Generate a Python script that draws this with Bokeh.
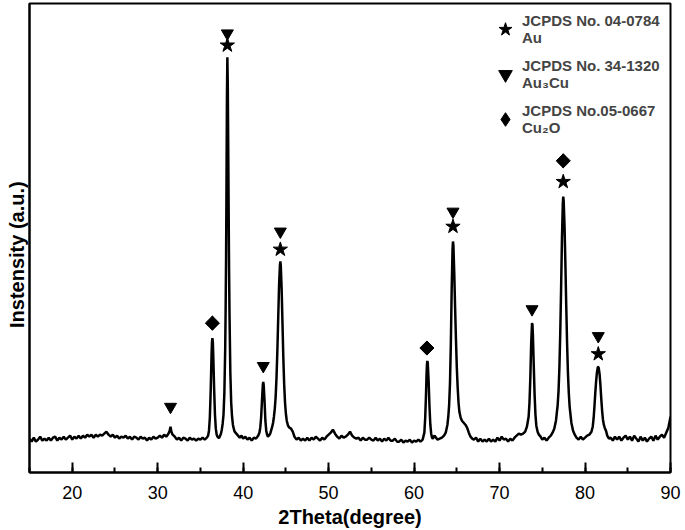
import math
from bokeh.plotting import figure
from bokeh.models import Range1d, Legend, LegendItem, SingleIntervalTicker, FixedTicker
from bokeh.embed import file_html
from bokeh.resources import INLINE

two_theta = [
    15.00, 15.25, 15.50, 15.75, 16.00, 16.25, 16.50, 16.75, 17.00, 17.25,
    17.50, 17.75, 18.00, 18.25, 18.50, 18.75, 19.00, 19.25, 19.50, 19.75,
    20.00, 20.25, 20.50, 20.75, 21.00, 21.25, 21.50, 21.75, 22.00, 22.25,
    22.50, 22.75, 23.00, 23.25, 23.50, 23.75, 24.00, 24.25, 24.50, 24.75,
    25.00, 25.25, 25.50, 25.75, 26.00, 26.25, 26.50, 26.75, 27.00, 27.25,
    27.50, 27.75, 28.00, 28.25, 28.50, 28.75, 29.00, 29.25, 29.50, 29.75,
    30.00, 30.25, 30.50, 30.75, 31.00, 31.25, 31.40, 31.50, 31.60, 31.75,
    32.00, 32.25, 32.50, 32.75, 33.00, 33.25, 33.50, 33.75, 34.00, 34.25,
    34.50, 34.75, 35.00, 35.25, 35.50, 35.75, 35.90, 36.00, 36.10, 36.20,
    36.30, 36.35, 36.40, 36.45, 36.50, 36.60, 36.70, 36.80, 36.90, 37.00,
    37.10, 37.20, 37.30, 37.40, 37.50, 37.60, 37.70, 37.80, 37.90, 37.95,
    38.00, 38.05, 38.10, 38.15, 38.20, 38.25, 38.30, 38.35, 38.40, 38.50,
    38.60, 38.70, 38.80, 38.90, 39.00, 39.20, 39.40, 39.60, 39.80, 40.00,
    40.25, 40.50, 40.75, 41.00, 41.25, 41.50, 41.75, 41.90, 42.00, 42.10,
    42.20, 42.30, 42.35, 42.40, 42.50, 42.60, 42.70, 42.80, 42.90, 43.00,
    43.10, 43.20, 43.30, 43.40, 43.50, 43.60, 43.70, 43.80, 43.90, 44.00,
    44.10, 44.20, 44.30, 44.35, 44.40, 44.50, 44.60, 44.70, 44.80, 44.90,
    45.00, 45.10, 45.25, 45.40, 45.60, 45.80, 46.00, 46.25, 46.50, 46.75,
    47.00, 47.25, 47.50, 47.75, 48.00, 48.25, 48.50, 48.75, 49.00, 49.25,
    49.50, 49.75, 50.00, 50.25, 50.50, 50.75, 51.00, 51.25, 51.50, 51.75,
    52.00, 52.25, 52.50, 52.75, 53.00, 53.25, 53.50, 53.75, 54.00, 54.25,
    54.50, 54.75, 55.00, 55.25, 55.50, 55.75, 56.00, 56.25, 56.50, 56.75,
    57.00, 57.25, 57.50, 57.75, 58.00, 58.25, 58.50, 58.75, 59.00, 59.25,
    59.50, 59.75, 60.00, 60.25, 60.50, 60.75, 61.00, 61.20, 61.30, 61.40,
    61.45, 61.50, 61.55, 61.60, 61.70, 61.80, 61.90, 62.00, 62.10, 62.20,
    62.30, 62.40, 62.55, 62.75, 63.00, 63.25, 63.50, 63.70, 63.90, 64.00,
    64.10, 64.20, 64.30, 64.40, 64.50, 64.55, 64.60, 64.70, 64.80, 64.90,
    65.00, 65.10, 65.20, 65.30, 65.45, 65.60, 65.80, 66.00, 66.20, 66.40,
    66.60, 66.80, 67.00, 67.25, 67.50, 67.75, 68.00, 68.25, 68.50, 68.75,
    69.00, 69.25, 69.50, 69.75, 70.00, 70.25, 70.50, 70.75, 71.00, 71.25,
    71.50, 71.75, 72.00, 72.25, 72.50, 72.75, 73.00, 73.20, 73.40, 73.50,
    73.60, 73.70, 73.80, 73.85, 73.90, 74.00, 74.10, 74.20, 74.30, 74.45,
    74.60, 74.80, 75.00, 75.25, 75.50, 75.75, 76.00, 76.20, 76.40, 76.60,
    76.80, 76.90, 77.00, 77.10, 77.20, 77.30, 77.40, 77.45, 77.50, 77.60,
    77.70, 77.80, 77.90, 78.00, 78.10, 78.20, 78.40, 78.60, 78.80, 79.00,
    79.25, 79.50, 79.75, 80.00, 80.25, 80.50, 80.75, 80.90, 81.00, 81.10,
    81.20, 81.30, 81.40, 81.50, 81.55, 81.60, 81.70, 81.80, 81.90, 82.00,
    82.10, 82.20, 82.30, 82.45, 82.60, 82.80, 83.00, 83.25, 83.50, 83.75,
    84.00, 84.25, 84.50, 84.75, 85.00, 85.25, 85.50, 85.75, 86.00, 86.25,
    86.50, 86.75, 87.00, 87.25, 87.50, 87.75, 88.00, 88.25, 88.50, 88.75,
    89.00, 89.25, 89.50, 89.75, 90.00,
]

intensity = [
    34, 31, 35, 31, 33, 36, 32, 34, 32, 35,
    32, 35, 36, 32, 35, 33, 36, 33, 35, 37,
    33, 36, 34, 37, 34, 37, 35, 38, 36, 38,
    35, 38, 36, 38, 37, 39, 41, 38, 36, 38,
    35, 37, 34, 36, 35, 37, 34, 36, 33, 36,
    35, 33, 36, 34, 35, 32, 35, 33, 36, 34,
    35, 37, 35, 38, 36, 39, 42, 46, 41, 38,
    36, 33, 35, 32, 35, 34, 32, 35, 33, 34,
    32, 34, 33, 35, 33, 35, 37, 42, 55, 82,
    118, 131, 135, 131, 118, 85, 58, 44, 38, 36,
    35, 35, 37, 39, 43, 49, 58, 80, 125, 165,
    215, 290, 375, 417, 390, 330, 265, 205, 160, 100,
    70, 56, 48, 44, 41, 39, 37, 35, 37, 34,
    36, 33, 35, 32, 35, 34, 37, 40, 45, 55,
    72, 88, 91, 88, 72, 52, 42, 38, 36, 37,
    38, 40, 43, 46, 50, 56, 64, 76, 95, 122,
    155, 188, 208, 212, 208, 185, 150, 115, 88, 70,
    59, 52, 47, 45, 44, 41, 36, 33, 35, 32,
    34, 32, 35, 32, 35, 33, 36, 34, 32, 35,
    33, 36, 38, 40, 43, 39, 36, 34, 37, 35,
    36, 38, 41, 37, 35, 34, 35, 32, 35, 33,
    33, 35, 33, 32, 35, 32, 34, 31, 34, 32,
    35, 32, 32, 34, 31, 31, 33, 30, 32, 31,
    33, 30, 32, 31, 33, 31, 33, 40, 55, 80,
    97, 108, 112, 110, 92, 66, 48, 39, 35, 34,
    36, 37, 35, 33, 34, 35, 37, 40, 48, 56,
    68, 90, 130, 185, 225, 232, 228, 200, 165, 133,
    105, 85, 70, 61, 55, 52, 50, 48, 45, 40,
    36, 34, 33, 35, 31, 34, 31, 33, 31, 34,
    31, 33, 31, 35, 32, 36, 33, 34, 31, 34,
    32, 35, 37, 39, 38, 39, 41, 46, 56, 70,
    95, 130, 150, 148, 138, 108, 78, 58, 47, 41,
    38, 36, 33, 35, 32, 35, 37, 40, 44, 52,
    68, 82, 105, 140, 185, 235, 270, 277, 273, 248,
    210, 168, 130, 100, 80, 66, 50, 42, 38, 35,
    33, 36, 33, 35, 37, 38, 41, 46, 54, 66,
    80, 92, 101, 106, 106, 105, 99, 88, 74, 62,
    53, 48, 45, 42, 37, 34, 35, 32, 36, 33,
    36, 32, 35, 37, 33, 36, 32, 37, 34, 31,
    36, 32, 35, 31, 34, 36, 32, 37, 33, 36,
    38, 35, 40, 45, 56,
]
assert len(two_theta) == len(intensity)

# phase markers above the peaks
au_x = [38.15, 44.35, 64.55, 77.45, 81.55]
au_y = [429, 224, 247, 292, 119]
au3cu_x = [31.5, 38.15, 42.35, 44.35, 64.55, 73.8, 81.55]
au3cu_y = [66, 441, 107, 242, 262, 164, 137]
cu2o_x = [36.4, 61.5, 77.45]
cu2o_y = [150, 125, 313]

legend_labels = ["JCPDS No. 04-0784\nAu", "JCPDS No. 34-1320\nAu\u2083Cu", "JCPDS No.05-0667\nCu\u2082O"]
y_label = "Instensity (a.u.)"

FONT = "Liberation Sans"

p = figure(width=685, height=530, output_backend="svg", toolbar_location=None,
           x_range=Range1d(15, 90), y_range=Range1d(0, 471),
           min_border_left=29, min_border_right=15, min_border_top=3, min_border_bottom=56)
p.background_fill_color = "white"
p.border_fill_color = "white"
p.outline_line_color = "black"
p.outline_line_width = 2
p.xgrid.visible = False
p.ygrid.visible = False

ax = p.xaxis[0]
ax.ticker = SingleIntervalTicker(interval=10, num_minor_ticks=2)
ax.axis_line_width = 2
ax.major_tick_in = 10
ax.major_tick_out = 0
ax.minor_tick_in = 5
ax.minor_tick_out = 0
ax.major_tick_line_width = 2
ax.minor_tick_line_width = 2
ax.major_label_text_font = FONT
ax.major_label_text_font_size = "18px"
ax.major_label_text_color = "black"
ax.major_label_standoff = 13
ax.axis_label = "2Theta(degree)"
ax.axis_label_text_font = FONT
ax.axis_label_text_font_style = "bold"
ax.axis_label_text_font_size = "20px"
ax.axis_label_text_color = "black"
ax.axis_label_standoff = 4

ay = p.yaxis[0]
ay.ticker = FixedTicker(ticks=[])
ay.axis_line_width = 2
ay.major_tick_in = 0
ay.major_tick_out = 0
ay.minor_tick_in = 0
ay.minor_tick_out = 0
ay.major_label_text_font_size = "0px"
ay.major_label_standoff = 0
# trailing no-break spaces shift the centred label downwards, as in the original
ay.axis_label = y_label + "\u00a0" * 6
ay.axis_label_text_font = FONT
ay.axis_label_text_font_style = "bold"
ay.axis_label_text_font_size = "20px"
ay.axis_label_text_color = "black"
ay.axis_label_standoff = 2

p.line(two_theta, intensity, line_color="black", line_width=2.5)

r_au = p.scatter(au_x, au_y, marker="star", size=15, color="black")
r_au3cu = p.scatter(au3cu_x, au3cu_y, marker="inverted_triangle", size=12, color="black")
# diamond key glyph (used by the legend) lies inside the rotated square drawn over it
r_cu2o = p.scatter(cu2o_x, cu2o_y, marker="diamond", size=14, color="black")
p.scatter(cu2o_x, cu2o_y, marker="square", angle=math.pi / 4, size=10, color="black")

legend = Legend(items=[LegendItem(label=legend_labels[0], renderers=[r_au]),
                       LegendItem(label=legend_labels[1], renderers=[r_au3cu]),
                       LegendItem(label=legend_labels[2], renderers=[r_cu2o])],
                location=(459, 336), border_line_color=None, background_fill_alpha=0,
                label_text_font=FONT, label_text_font_style="bold", label_text_font_size="15px",
                label_text_line_height=1.15,
                glyph_width=34, glyph_height=34, label_standoff=0, spacing=11, padding=0, margin=0)
p.add_layout(legend)

open("out.html", "w").write(file_html(p, INLINE))
